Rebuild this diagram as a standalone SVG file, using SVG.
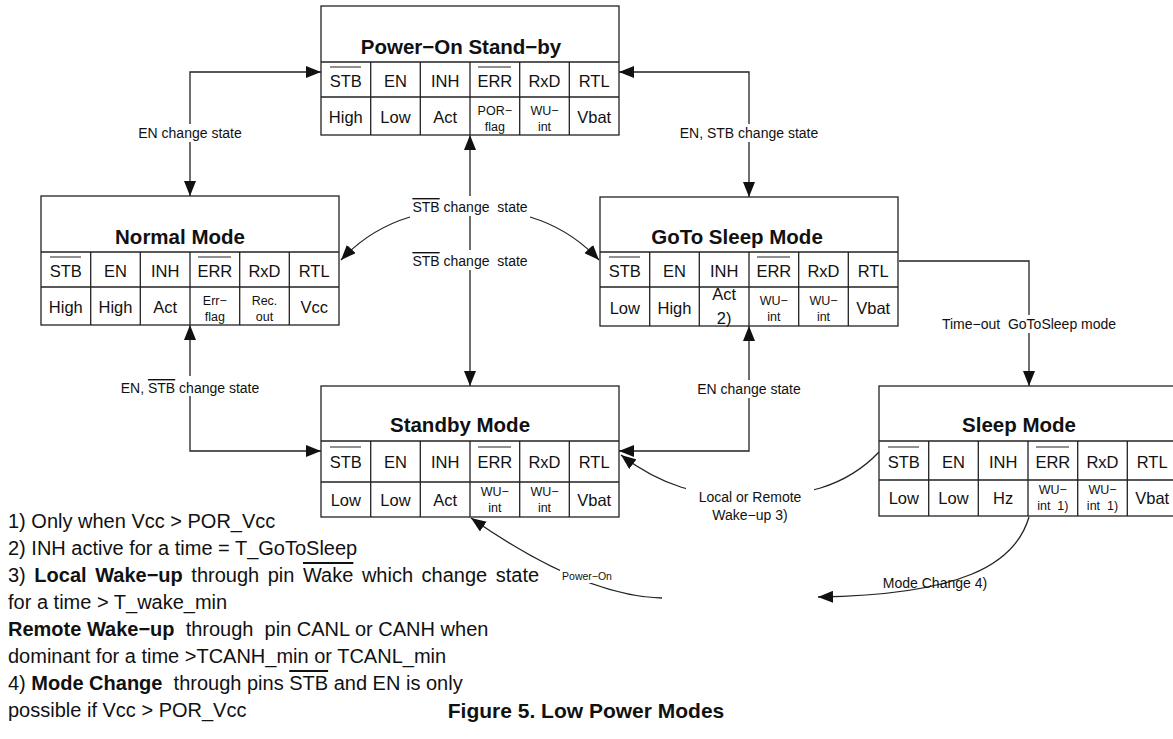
<svg xmlns="http://www.w3.org/2000/svg" width="1173" height="739" viewBox="0 0 1173 739">
<defs>
<style>
text{font-family:"Liberation Sans",Arial,Helvetica,sans-serif;fill:#111}
.bx{fill:#fff;stroke:#222;stroke-width:1.3}
.gl{stroke:#222;stroke-width:1.3}
.ov{stroke:#222;stroke-width:1.1}
.t{font-size:20.5px;font-weight:bold;text-anchor:middle}
.c{font-size:16.5px;text-anchor:middle}
.s{font-size:12.5px;text-anchor:middle}
.l{font-size:14px;text-anchor:middle}
.f{font-size:20px}
.b{font-weight:bold}
.o{text-decoration:overline}
.cn{fill:none;stroke:#222;stroke-width:1.3}
.bg{fill:#fff}
</style>
<marker id="ah" viewBox="0 0 15 12" refX="15" refY="6" markerWidth="15" markerHeight="12" markerUnits="userSpaceOnUse" orient="auto-start-reverse"><path d="M0,0 L15,6 L0,12 z" fill="#111"/></marker>
</defs>
<rect width="1173" height="739" fill="#fff"/>

<g id="connectors">
<path class="cn" d="M190,196 L190,72 L321,72" marker-start="url(#ah)" marker-end="url(#ah)"/>
<path class="cn" d="M619,72 L749,72 L749,197" marker-start="url(#ah)" marker-end="url(#ah)"/>
<path class="cn" d="M470,135 L470,386" marker-start="url(#ah)" marker-end="url(#ah)"/>
<path class="cn" d="M410,217 Q370,229 341,260" marker-end="url(#ah)"/>
<path class="cn" d="M530,217 Q570,229 599,260" marker-end="url(#ah)"/>
<path class="cn" d="M190,325 L190,451 L321,451" marker-start="url(#ah)" marker-end="url(#ah)"/>
<path class="cn" d="M749,326 L749,451 L619,451" marker-start="url(#ah)" marker-end="url(#ah)"/>
<path class="cn" d="M899,261 L1029,261 L1029,386" marker-end="url(#ah)"/>
<path class="cn" d="M879,452 C845,488 800,497 750,497 C700,497 660,485 621,455" marker-end="url(#ah)"/>
<path class="cn" d="M662,598 Q583,596 471,518" marker-end="url(#ah)"/>
<path class="cn" d="M1029,517 C1015,565 960,595 818,597" marker-end="url(#ah)"/>

<rect class="bg" x="136" y="124" width="108" height="18"/>
<text class="l" x="190" y="138">EN change state</text>
<rect class="bg" x="677" y="124" width="144" height="18"/>
<text class="l" x="749" y="138">EN, STB change state</text>
<rect class="bg" x="408" y="196" width="124" height="20"/>
<text class="l" x="470" y="212" xml:space="preserve"><tspan class="o">STB</tspan> change  state</text>
<rect class="bg" x="408" y="250" width="124" height="20"/>
<text class="l" x="470" y="266" xml:space="preserve"><tspan class="o">STB</tspan> change  state</text>
<rect class="bg" x="116" y="376" width="148" height="20"/>
<text class="l" x="190" y="393">EN, <tspan class="o">STB</tspan> change state</text>
<rect class="bg" x="695" y="380" width="108" height="18"/>
<text class="l" x="749" y="394">EN change state</text>
<rect class="bg" x="936" y="315" width="186" height="18"/>
<text class="l" x="1029" y="329" xml:space="preserve">Time−out  GoToSleep mode</text>
<rect class="bg" x="686" y="487" width="128" height="34"/>
<text class="l" x="750" y="502">Local or Remote</text>
<text class="l" x="750" y="520">Wake−up 3)</text>
<rect class="bg" x="560" y="568" width="54" height="15"/>
<text x="587" y="580" style="font-size:10.5px;text-anchor:middle">Power−On</text>
<text class="l" x="935" y="588">Mode Change 4)</text>
</g>

<g id="node-poweron">
<rect class="bx" x="321" y="6" width="298" height="129"/>
<path class="gl" d="M321,62H619M321,97H619M370.7,62V135M420.3,62V135M470,62V135M519.7,62V135M569.3,62V135"/>
<text class="t" x="461" y="54">Power−On Stand−by</text>
<text class="c" x="345.8" y="87">STB</text><text class="c" x="395.5" y="87">EN</text><text class="c" x="445.2" y="87">INH</text><text class="c" x="494.8" y="87">ERR</text><text class="c" x="544.5" y="87">RxD</text><text class="c" x="594.2" y="87">RTL</text>
<path class="ov" d="M330,67H361M478,67H511"/>
<text class="c" x="345.8" y="123">High</text><text class="c" x="395.5" y="123">Low</text><text class="c" x="445.2" y="123">Act</text>
<text class="s" x="494.8" y="115">POR−</text><text class="s" x="494.8" y="131">flag</text>
<text class="s" x="544.5" y="115">WU−</text><text class="s" x="544.5" y="131">int</text>
<text class="c" x="594.2" y="123">Vbat</text>
</g>

<g id="node-normal">
<rect class="bx" x="41" y="196" width="298" height="129"/>
<path class="gl" d="M41,252H339M41,287H339M90.7,252V325M140.3,252V325M190,252V325M239.7,252V325M289.3,252V325"/>
<text class="t" x="180" y="244">Normal Mode</text>
<text class="c" x="65.8" y="277">STB</text><text class="c" x="115.5" y="277">EN</text><text class="c" x="165.2" y="277">INH</text><text class="c" x="214.8" y="277">ERR</text><text class="c" x="264.5" y="277">RxD</text><text class="c" x="314.2" y="277">RTL</text>
<path class="ov" d="M50,257H81M198,257H231"/>
<text class="c" x="65.8" y="313">High</text><text class="c" x="115.5" y="313">High</text><text class="c" x="165.2" y="313">Act</text>
<text class="s" x="214.8" y="305">Err−</text><text class="s" x="214.8" y="321">flag</text>
<text class="s" x="264.5" y="305">Rec.</text><text class="s" x="264.5" y="321">out</text>
<text class="c" x="314.2" y="313">Vcc</text>
</g>

<g id="node-gotosleep">
<rect class="bx" x="600" y="197" width="298" height="129"/>
<path class="gl" d="M600,252H898M600,287H898M649.7,252V326M699.3,252V326M749,252V326M798.7,252V326M848.3,252V326"/>
<text class="t" x="737" y="244">GoTo Sleep Mode</text>
<text class="c" x="624.8" y="277">STB</text><text class="c" x="674.5" y="277">EN</text><text class="c" x="724.2" y="277">INH</text><text class="c" x="773.8" y="277">ERR</text><text class="c" x="823.5" y="277">RxD</text><text class="c" x="873.2" y="277">RTL</text>
<path class="ov" d="M609,257H640M757,257H790"/>
<text class="c" x="624.8" y="314">Low</text><text class="c" x="674.5" y="314">High</text>
<text class="c" x="724.2" y="300">Act</text><text class="c" x="724.2" y="324">2)</text>
<text class="s" x="773.8" y="305">WU−</text><text class="s" x="773.8" y="321">int</text>
<text class="s" x="823.5" y="305">WU−</text><text class="s" x="823.5" y="321">int</text>
<text class="c" x="873.2" y="314">Vbat</text>
</g>

<g id="node-standby">
<rect class="bx" x="321" y="386" width="298" height="131"/>
<path class="gl" d="M321,441H619M321,482H619M370.7,441V517M420.3,441V517M470,441V517M519.7,441V517M569.3,441V517"/>
<text class="t" x="460" y="432">Standby Mode</text>
<text class="c" x="345.8" y="468">STB</text><text class="c" x="395.5" y="468">EN</text><text class="c" x="445.2" y="468">INH</text><text class="c" x="494.8" y="468">ERR</text><text class="c" x="544.5" y="468">RxD</text><text class="c" x="594.2" y="468">RTL</text>
<path class="ov" d="M330,447H361M478,447H511"/>
<text class="c" x="345.8" y="506">Low</text><text class="c" x="395.5" y="506">Low</text><text class="c" x="445.2" y="506">Act</text>
<text class="s" x="494.8" y="496">WU−</text><text class="s" x="494.8" y="512">int</text>
<text class="s" x="544.5" y="496">WU−</text><text class="s" x="544.5" y="512">int</text>
<text class="c" x="594.2" y="506">Vbat</text>
</g>

<g id="node-sleep">
<rect class="bx" x="879" y="386" width="299" height="130"/>
<path class="gl" d="M879,441H1178M879,480H1178M928.7,441V516M978.3,441V516M1028,441V516M1077.7,441V516M1127.3,441V516"/>
<text class="t" x="1019" y="432">Sleep Mode</text>
<text class="c" x="903.8" y="468">STB</text><text class="c" x="953.5" y="468">EN</text><text class="c" x="1003.2" y="468">INH</text><text class="c" x="1052.8" y="468">ERR</text><text class="c" x="1102.5" y="468">RxD</text><text class="c" x="1152.2" y="468">RTL</text>
<path class="ov" d="M888,447H919M1036,447H1069"/>
<text class="c" x="903.8" y="504">Low</text><text class="c" x="953.5" y="504">Low</text><text class="c" x="1003.2" y="504">Hz</text>
<text class="s" x="1052.8" y="494">WU−</text><text class="s" x="1052.8" y="510" xml:space="preserve">int  1)</text>
<text class="s" x="1102.5" y="494">WU−</text><text class="s" x="1102.5" y="510" xml:space="preserve">int  1)</text>
<text class="c" x="1152.2" y="504">Vbat</text>
</g>

<g id="notes">
<text class="f" x="8" y="528">1) Only when Vcc &gt; POR_Vcc</text>
<text class="f" x="8" y="555">2) INH active for a time = T_GoToSleep</text>
<text class="f" x="8" y="582" style="word-spacing:3px">3) <tspan class="b">Local Wake−up</tspan> through pin <tspan class="o">Wake</tspan> which change state</text>
<text class="f" x="8" y="609">for a time &gt; T_wake_min</text>
<text class="f" x="8" y="636" xml:space="preserve"><tspan class="b">Remote Wake−up</tspan>  through  pin CANL or CANH when</text>
<text class="f" x="8" y="663">dominant for a time &gt;TCANH_min or TCANL_min</text>
<text class="f" x="8" y="690" xml:space="preserve">4) <tspan class="b">Mode Change</tspan>  through pins <tspan class="o">STB</tspan> and EN is only</text>
<text class="f" x="8" y="717">possible if Vcc &gt; POR_Vcc</text>
<text x="586" y="718" style="font-size:21px;font-weight:bold;text-anchor:middle">Figure 5. Low Power Modes</text>
</g>
</svg>
